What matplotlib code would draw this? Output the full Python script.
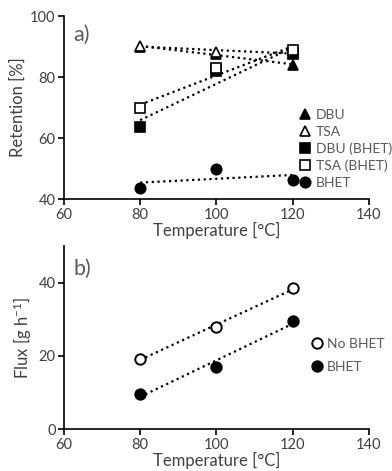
import numpy as np
import matplotlib
matplotlib.use("Agg")
import matplotlib.pyplot as plt

plt.rcParams['font.family'] = ['Lato', 'DejaVu Sans']
plt.rcParams['mathtext.fontset'] = 'custom'
plt.rcParams['mathtext.rm'] = 'Lato'
plt.rcParams['mathtext.it'] = 'Lato:italic'
plt.rcParams['mathtext.bf'] = 'Lato:bold'

temps = [80, 100, 120]
dbu = [90.0, 87.6, 84.0]
tsa = [90.3, 88.2, 88.0]
dbu_bhet = [63.8, 82.0, 87.6]
tsa_bhet = [69.8, 82.9, 88.9]
bhet = [43.8, 50.0, 46.3]

flux_no_bhet = [19.2, 28.0, 38.4]
flux_bhet = [9.7, 17.1, 29.6]

xticks = [60, 80, 100, 120, 140]
GRAY = '#595959'
TICK = '#404040'
FS_TICK = 10.5
FS_LAB = 12
FS_LEG = 10

fig = plt.figure(figsize=(3.92, 4.71), dpi=100)
ax1 = fig.add_axes([0.163, 0.577, 0.778, 0.389])
ax2 = fig.add_axes([0.163, 0.0885, 0.778, 0.3895])


def trend(ax, x, y):
    p = np.polyfit(x, y, 1)
    xs = np.array([min(x), max(x)])
    ax.plot(xs, np.polyval(p, xs), linestyle=(0, (1, 1.6)), color='black', lw=1.6, zorder=2)


def style(ax, ylim, yticks):
    ax.set_xlim(60, 140)
    ax.set_ylim(*ylim)
    ax.set_xticks(xticks)
    ax.set_yticks(yticks)
    for s in ['top', 'right']:
        ax.spines[s].set_visible(False)
    for s in ['left', 'bottom']:
        ax.spines[s].set_linewidth(1.2)
    ax.tick_params(direction='out', length=4, width=1.2, labelsize=FS_TICK, labelcolor=TICK, pad=2)
    ax.set_xlabel('Temperature [°C]', fontsize=FS_LAB, color=TICK, labelpad=0)


ms = 6.5
series1 = [
    (dbu, '^', 'black', 'DBU'),
    (tsa, '^', 'white', 'TSA'),
    (dbu_bhet, 's', 'black', 'DBU (BHET)'),
    (tsa_bhet, 's', 'white', 'TSA (BHET)'),
    (bhet, 'o', 'black', 'BHET'),
]
for vals, m, fc, lab in series1:
    trend(ax1, temps, vals)
for vals, m, fc, lab in series1:
    ax1.plot(temps, vals, linestyle='none', marker=m, markersize=ms if m != 'o' else 7.5,
             markerfacecolor=fc, markeredgecolor='black', markeredgewidth=1.2, label=lab, zorder=3)
style(ax1, (40, 100), [40, 60, 80, 100])
ax1.set_ylabel('Retention [%]', fontsize=FS_LAB, color=TICK, labelpad=3)
ax1.text(0.03, 0.865, 'a)', transform=ax1.transAxes, fontsize=15.5, color=GRAY)
ax1.legend(loc='upper left', bbox_to_anchor=(0.777, 0.493), frameon=False, fontsize=FS_LEG,
           labelcolor=GRAY, handlelength=0.6, handletextpad=0.5, labelspacing=0.34,
           borderpad=0, borderaxespad=0)

series2 = [
    (flux_no_bhet, 'white', 'No BHET'),
    (flux_bhet, 'black', 'BHET'),
]
for vals, fc, lab in series2:
    trend(ax2, temps, vals)
for vals, fc, lab in series2:
    ax2.plot(temps, vals, linestyle='none', marker='o', markersize=7.5,
             markerfacecolor=fc, markeredgecolor='black', markeredgewidth=1.4, label=lab, zorder=3)
style(ax2, (0, 50), [0, 20, 40])
ax2.set_ylabel('Flux [g h$^{-1}$]', fontsize=FS_LAB, color=TICK, labelpad=3)
ax2.text(0.03, 0.84, 'b)', transform=ax2.transAxes, fontsize=15.5, color=GRAY)
ax2.legend(loc='upper left', bbox_to_anchor=(0.816, 0.5), frameon=False, fontsize=FS_LEG,
           labelcolor=GRAY, handlelength=0.6, handletextpad=0.43, labelspacing=0.8,
           borderpad=0, borderaxespad=0)

fig.savefig('out.png', dpi=100)
